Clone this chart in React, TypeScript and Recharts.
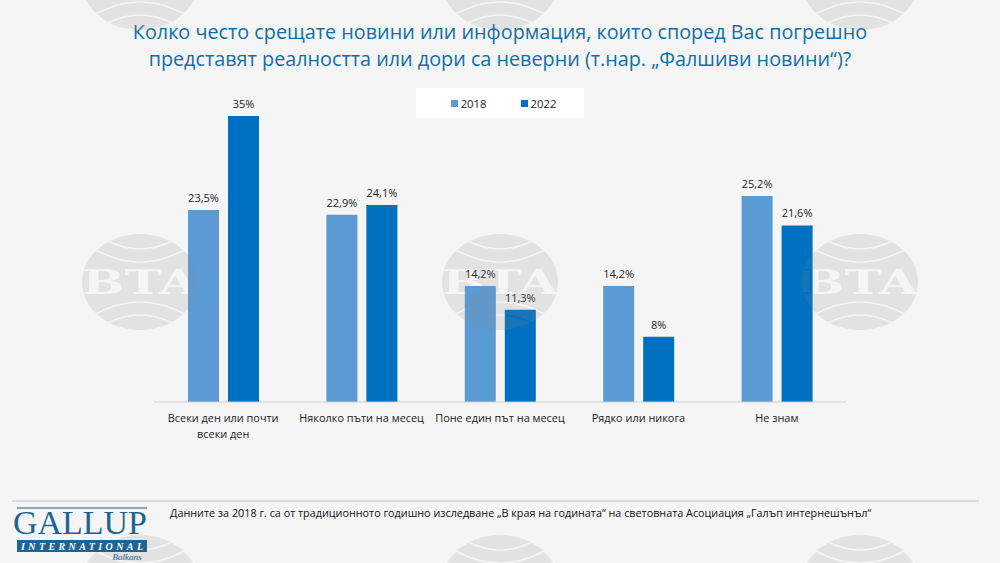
import React from "react";
import { Bar, BarChart, LabelList, Legend, XAxis, YAxis } from "recharts";

const categories = [
  "Всеки ден или почти всеки ден",
  "Няколко пъти на месец",
  "Поне един път на месец",
  "Рядко или никога",
  "Не знам",
];
const values2018 = [23.5, 22.9, 14.2, 14.2, 25.2];
const values2022 = [35, 24.1, 11.3, 8, 21.6];
const labels2018 = ["23,5%", "22,9%", "14,2%", "14,2%", "25,2%"];
const labels2022 = ["35%", "24,1%", "11,3%", "8%", "21,6%"];

const titleLines = [
  "Колко често срещате новини или информация, които според Вас погрешно",
  "представят реалността или дори са неверни (т.нар. „Фалшиви новини“)?",
];
const footnote =
  "Данните за 2018 г. са от традиционното годишно изследване „В края на годината“ на световната Асоциация „Галъп интернешънъл“";

const data = categories.map((name, i) => ({
  name,
  y2018: values2018[i],
  y2022: values2022[i],
  l2018: labels2018[i],
  l2022: labels2022[i],
}));

const font = "'Open Sans', sans-serif";

// BTA watermark, repeated over the whole slide. Arcs and letters are cut out with a mask
const Watermark = ({ cx, cy, label }: { cx: number; cy: number; label: boolean }) => {
  const id = `wm-${cx}-${cy}`;
  const arcs = [
    `M${cx - 34} ${cy - 42} Q${cx} ${cy - 24} ${cx + 34} ${cy - 42}`,
    `M${cx - 46} ${cy - 33} Q${cx} ${cy - 7} ${cx + 46} ${cy - 33}`,
    `M${cx - 34} ${cy + 42} Q${cx} ${cy + 24} ${cx + 34} ${cy + 42}`,
    `M${cx - 46} ${cy + 33} Q${cx} ${cy + 7} ${cx + 46} ${cy + 33}`,
  ];
  return (
    <g>
      <mask id={id} maskUnits="userSpaceOnUse" x={cx - 70} y={cy - 60} width={140} height={120}>
        <ellipse cx={cx} cy={cy} rx={58} ry={48} fill="#fff" />
        {arcs.map((d) => (
          <path key={d} d={d} fill="none" stroke="#000" strokeWidth={1.6} />
        ))}
        {label && (
          <text
            x={cx - 58}
            y={cy + 12}
            fontFamily="'DejaVu Serif', serif"
            fontWeight="bold"
            fontSize={33}
            fill="#000"
            textLength={116}
            lengthAdjust="spacingAndGlyphs"
          >
            BTA
          </text>
        )}
      </mask>
      <rect x={cx - 70} y={cy - 60} width={140} height={120} fill="#888" opacity={0.17} mask={`url(#${id})`} />
    </g>
  );
};

const marks = [
  [140, 282, true], [500, 282, true], [860, 282, true],
  [140, -18, false], [500, -18, false], [860, -18, false],
  [140, 583, false], [500, 583, false], [860, 583, false],
] as const;

const CategoryTick = ({ x, y, payload }: any) => {
  const words = payload.value === categories[0] ? ["Всеки ден или почти", "всеки ден"] : [payload.value];
  return (
    <text x={x} y={y} textAnchor="middle" fontFamily={font} fontSize={10.9} fill="#222">
      {words.map((w: string, i: number) => (
        <tspan key={w} x={x} dy={i === 0 ? 12 : 16}>{w}</tspan>
      ))}
    </text>
  );
};

const LegendBox = () => (
  <div style={{ display: "flex", justifyContent: "center", alignItems: "center", height: 30, paddingLeft: 7, boxSizing: "border-box", background: "#fff", fontFamily: font, fontSize: 11.3, color: "#222" }}>
    <span style={{ width: 7, height: 7, background: "#5b9bd5", marginRight: 3 }} />
    <span style={{ marginRight: 34 }}>2018</span>
    <span style={{ width: 7, height: 7, background: "#0070c0", marginRight: 3 }} />
    <span>2022</span>
  </div>
);

export default function App() {
  return (
    <div style={{ position: "absolute", left: 0, top: 0, width: 1000, height: 563, background: "#f5f5f5", overflow: "hidden" }}>
      <div style={{ position: "absolute", left: 0, top: 18, width: 1000, textAlign: "center", fontFamily: font, fontSize: 19.8, lineHeight: "27px", color: "#0f6fa8" }}>
        {titleLines.map((t) => (
          <div key={t}>{t}</div>
        ))}
      </div>
      <div style={{ position: "absolute", left: 0, top: 0 }}>
        <BarChart
          width={1000}
          height={563}
          data={data}
          barSize={31}
          barGap={9}
          margin={{ top: 86, right: 154, bottom: 0, left: 154 }}
        >
          <XAxis dataKey="name" height={161} interval={0} tick={<CategoryTick />} tickLine={false} axisLine={{ stroke: "#d0d0d0" }} />
          <YAxis hide domain={[0, 35]} />
          <Legend
            content={<LegendBox />}
            layout="horizontal"
            verticalAlign="top"
            wrapperStyle={{ position: "absolute", left: 416, top: 88, width: 168, height: 30 }}
          />
          <Bar dataKey="y2018" name="2018" fill="#5b9bd5" isAnimationActive={false}>
            <LabelList dataKey="l2018" position="top" offset={8} style={{ fontFamily: font, fontSize: 11, fill: "#222" }} />
          </Bar>
          <Bar dataKey="y2022" name="2022" fill="#0070c0" isAnimationActive={false}>
            <LabelList dataKey="l2022" position="top" offset={8} style={{ fontFamily: font, fontSize: 11, fill: "#222" }} />
          </Bar>
        </BarChart>
      </div>
      <svg width={1000} height={563} style={{ position: "absolute", left: 0, top: 0, pointerEvents: "none" }}>
        {marks.map(([cx, cy, label]) => (
          <Watermark key={`${cx}-${cy}`} cx={cx} cy={cy} label={label} />
        ))}
        <line x1={12} x2={979} y1={501} y2={501} stroke="#bdbdbd" strokeWidth={1} />
        <line x1={17} x2={147} y1={508} y2={508} stroke="#1f5f8b" strokeWidth={1} />
        <text x={13} y={534} fontFamily="'Liberation Serif', serif" fontSize={33} fill="#1f6391" textLength={134} lengthAdjust="spacingAndGlyphs">GALLUP</text>
        <rect x={17} y={540} width={130} height={12} fill="#1f6391" />
        <text x={82} y={550} textAnchor="middle" fontFamily="'Liberation Serif', serif" fontStyle="italic" fontWeight="bold" fontSize={10} fill="#fff" textLength={122}>INTERNATIONAL</text>
        <text x={127} y={560} textAnchor="middle" fontFamily="'Liberation Serif', serif" fontStyle="italic" fontSize={9} fill="#1f5f8b">Balkans</text>
        <text x={170} y={517} fontFamily={font} fontSize={10.8} fill="#111">{footnote}</text>
      </svg>
    </div>
  );
}
